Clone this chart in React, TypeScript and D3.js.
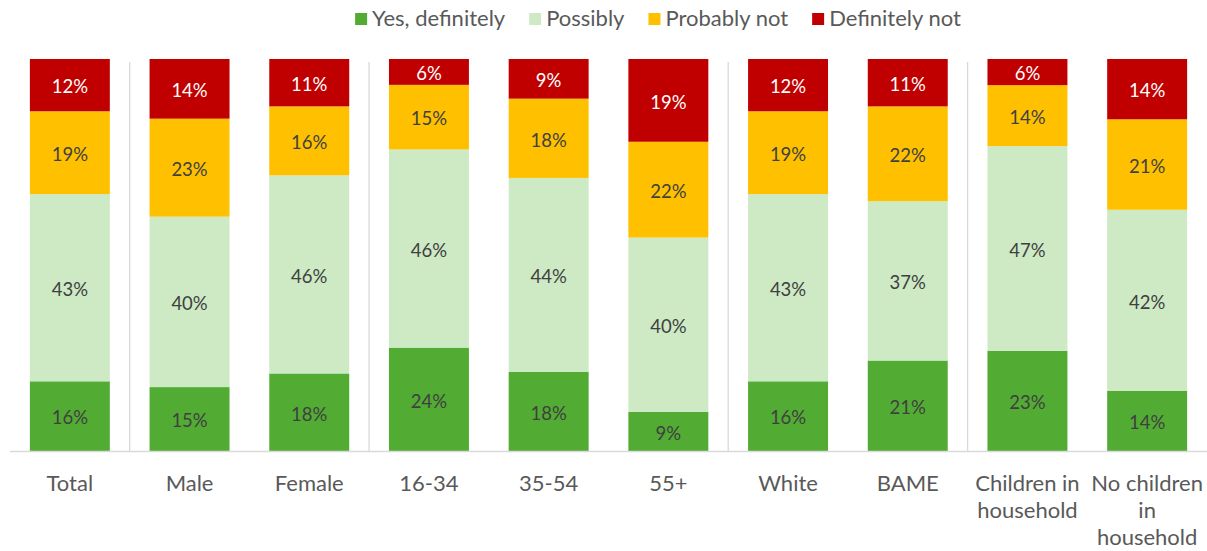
import React, { useEffect, useRef } from "react";
import * as d3 from "d3";

const categories = ["Total", "Male", "Female", "16-34", "35-54", "55+", "White", "BAME", "Children in household", "No children in household"];
const categoryLines = [["Total"], ["Male"], ["Female"], ["16-34"], ["35-54"], ["55+"], ["White"], ["BAME"], ["Children in", "household"], ["No children", "in", "household"]];
const seriesNames = ["Yes, definitely", "Possibly", "Probably not", "Definitely not"];
const yesDefinitely = [16, 15, 18, 24, 18, 9, 16, 21, 23, 14];
const possibly = [43, 40, 46, 46, 44, 40, 43, 37, 47, 42];
const probablyNot = [19, 23, 16, 15, 18, 22, 19, 22, 14, 21];
const definitelyNot = [12, 14, 11, 6, 9, 19, 12, 11, 6, 14];
const separatorsAfter = [0, 2, 5, 7];

const colors = ["#52AC34", "#CDEAC4", "#FFC000", "#C00000"];
const labelColors = ["#404040", "#404040", "#404040", "#FFFFFF"];
const FONT = "Lato, 'Open Sans', sans-serif";

export default function App() {
  const ref = useRef<SVGSVGElement>(null);
  useEffect(() => {
    const svg = d3.select(ref.current);
    svg.selectAll("*").remove();
    const W = 1207;
    const top = 59, bottom = 451;
    const x = d3.scaleBand<string>().domain(categories).range([10, 1207]).paddingInner(0.332).paddingOuter(0.166);
    const y = d3.scaleLinear().domain([0, 1]).range([bottom, top]);
    const series = [yesDefinitely, possibly, probablyNot, definitelyNot];
    const rows = categories.map((c, i) => {
      const o: any = { cat: c };
      seriesNames.forEach((s, k) => (o[s] = series[k][i]));
      return o;
    });
    const stack = d3.stack<any>().keys(seriesNames).offset(d3.stackOffsetExpand);
    const stacked = stack(rows);

    const step = x.step();
    svg.append("g").selectAll("line").data(separatorsAfter).join("line")
      .attr("x1", (d) => x(categories[d])! + x.bandwidth() + (step - x.bandwidth()) / 2)
      .attr("x2", (d) => x(categories[d])! + x.bandwidth() + (step - x.bandwidth()) / 2)
      .attr("y1", 62).attr("y2", bottom)
      .attr("stroke", "#D9D9D9").attr("stroke-width", 1.3);

    stacked.forEach((layer, k) => {
      const g = svg.append("g");
      g.selectAll("rect").data(layer).join("rect")
        .attr("x", (d: any) => x(d.data.cat)!)
        .attr("width", x.bandwidth())
        .attr("y", (d) => y(d[1]))
        .attr("height", (d) => y(d[0]) - y(d[1]))
        .attr("fill", colors[k]);
      g.selectAll("text").data(layer).join("text")
        .attr("x", (d: any) => x(d.data.cat)! + x.bandwidth() / 2)
        .attr("y", (d) => (y(d[0]) + y(d[1])) / 2)
        .attr("dy", "0.45em")
        .attr("text-anchor", "middle")
        .attr("font-family", FONT)
        .attr("font-size", 18.5)
        .attr("fill", labelColors[k])
        .text((d: any) => d.data[seriesNames[k]] + "%");
    });

    svg.append("line").attr("x1", 10).attr("x2", W).attr("y1", bottom + 0.5).attr("y2", bottom + 0.5)
      .attr("stroke", "#D9D9D9").attr("stroke-width", 1.3);

    const cl = svg.append("g");
    categories.forEach((c, i) => {
      const t = cl.append("text").attr("text-anchor", "middle").attr("font-family", FONT)
        .attr("font-size", 22).attr("fill", "#595959");
      categoryLines[i].forEach((line, j) => {
        t.append("tspan").attr("x", x(c)! + x.bandwidth() / 2).attr("y", 491 + j * 27).text(line);
      });
    });

    const lg = svg.append("g");
    const items = seriesNames.map((s, k) => {
      const gi = lg.append("g");
      gi.append("rect").attr("width", 12).attr("height", 12).attr("y", -13).attr("fill", colors[k]);
      const t = gi.append("text").attr("x", 17).attr("y", 0).attr("font-family", FONT)
        .attr("font-size", 22).attr("fill", "#595959").text(s);
      const w = 17 + (t.node() as SVGTextElement).getComputedTextLength();
      return { gi, w };
    });
    const gap = 24;
    const total = d3.sum(items, (d) => d.w) + gap * (items.length - 1);
    let cx = 658 - total / 2;
    items.forEach((it) => {
      it.gi.attr("transform", `translate(${cx},26)`);
      cx += it.w + gap;
    });
  }, []);
  return (
    <svg ref={ref} width={1207} height={551} style={{ position: "absolute", left: 0, top: 0 }} />
  );
}
